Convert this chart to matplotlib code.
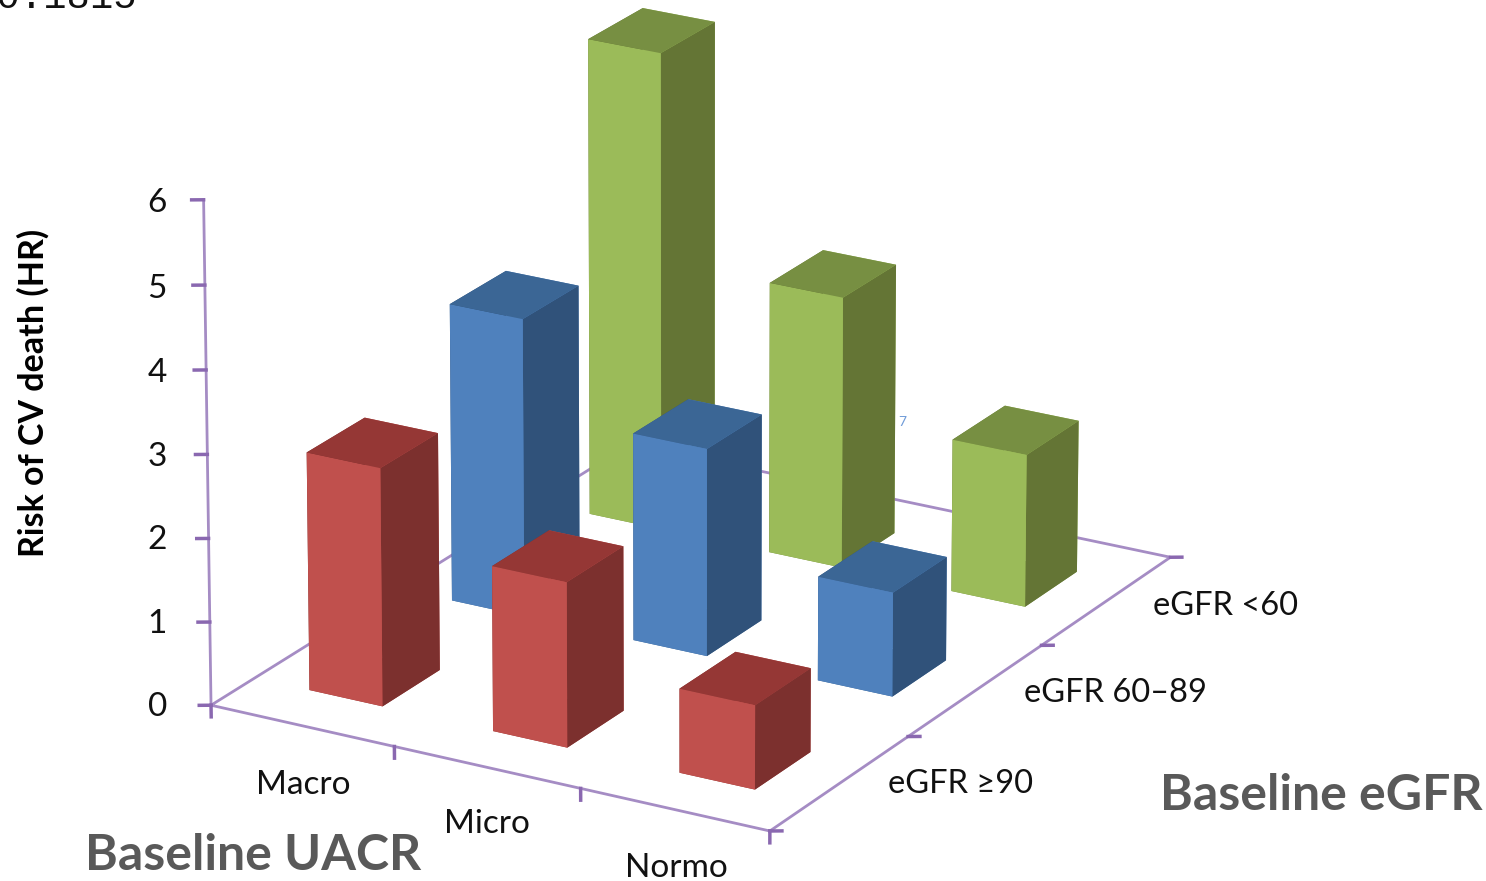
import matplotlib
matplotlib.use("Agg")
from matplotlib import pyplot as plt

WIDTH, HEIGHT = 1486, 881

uacr_labels = ["Macro", "Micro", "Normo"]
egfr_labels = ["eGFR \u226590", "eGFR 60\u201389", "eGFR <60"]
hr_ticks = [0, 1, 2, 3, 4, 5, 6]

# Hazard ratios by eGFR row, one value per UACR category
hr_egfr_90 = [2.85, 1.97, 1.0]
hr_egfr_60_89 = [3.6, 2.5, 1.25]
hr_egfr_below_60 = [5.82, 3.3, 1.85]

# Face colours per row: front, side, top
row_colors = [
    ("#C0504D", "#7C302E", "#953735"),
    ("#4F81BD", "#30527A", "#3B6695"),
    ("#9BBB59", "#647535", "#778F42"),
]
axis_color = "#A58CC4"
tick_color = "#8A68B0"
font = ["Lato", "DejaVu Sans"]


def fx(px):
    return px / WIDTH


def fy(py):
    return 1 - py / HEIGHT


fig = plt.figure(figsize=(WIDTH / 100, HEIGHT / 100), dpi=100)

# Square 3D axes larger than the figure so the bars are not clipped
side = 1486
cx, cy = 677.5, 402.5
ax = fig.add_axes([fx(cx - side / 2), fy(cy + side / 2), side / WIDTH, side / HEIGHT],
                  projection="3d")
ax.set_proj_type("persp", focal_length=1.6)
ax.view_init(elev=21, azim=-60)
ax.set_box_aspect((638, 825, 534), zoom=0.7665)
ax.set_xlim(0, 3)
ax.set_ylim(0, 3)
ax.set_zlim(0, 6)
ax.set_axis_off()
ax.patch.set_alpha(0)
ax.computed_zorder = False

# Floor edges and the HR axis
ax.plot([0, 3, 3, 0, 0], [0, 0, 3, 3, 0], [0, 0, 0, 0, 0], color=axis_color, lw=2, zorder=1)
ax.plot([0, 0], [0, 0], [0, 6], color=axis_color, lw=2, zorder=1)

# Tick marks: down on UACR, right on eGFR, left on HR
for i in range(4):
    ax.plot([i, i], [0, 0], [0, -0.14], color=tick_color, lw=2.5, zorder=1)
    ax.plot([3, 3.047], [i, i + 0.022], [0, 0], color=tick_color, lw=2.5, zorder=1)
for z in hr_ticks:
    ax.plot([0, -0.047], [0, -0.022], [z, z], color=tick_color, lw=2.5, zorder=1)

# Bars drawn back to front so nearer ones overlap farther ones
width = 0.4
rows = [hr_egfr_90, hr_egfr_60_89, hr_egfr_below_60]
order = 2
for row in (2, 1, 0):
    front, bar_side, top = row_colors[row]
    # bar3d face order: bottom, top, -y, +y, -x, +x
    faces = [top, top, front, front, bar_side, bar_side]
    for col, value in enumerate(rows[row]):
        ax.bar3d(col + 0.3, row + 0.3, 0, width, width, value, color=faces,
                 shade=False, zorder=order, linewidth=0)
        order += 1

# Text
black = "#111111"
for z, py in zip(hr_ticks, [707, 624, 540, 457, 373, 289, 203]):
    fig.text(fx(167), fy(py), str(z), ha="right", va="center", fontsize=24,
             family=font, color=black)
for label, px, py in zip(uacr_labels, [303, 487, 676], [785, 824, 868]):
    fig.text(fx(px), fy(py), label, ha="center", va="center", fontsize=24,
             family=font, color=black)
for label, px, py in zip(egfr_labels, [961, 1115, 1226], [784, 693, 606]):
    fig.text(fx(px), fy(py), label, ha="center", va="center", fontsize=23.5,
             family=font, color=black)

fig.text(fx(33), fy(393), "Risk of CV death (HR)", rotation=90, ha="center", va="center",
         fontsize=24.5, fontweight="bold", family=font, color="black")
fig.text(fx(253), fy(855), "Baseline UACR", ha="center", va="center", fontsize=36,
         fontweight="bold", family=font, color="#595959")
fig.text(fx(1321), fy(796), "Baseline eGFR", ha="center", va="center", fontsize=36,
         fontweight="bold", family=font, color="#595959")
fig.text(fx(137), fy(8), "10.1815", ha="right", va="baseline", fontsize=28,
         family="Liberation Mono", color=black)
fig.text(fx(902), fy(422), "7", ha="center", va="center", fontsize=10, color="#6F9BD8", family=font)

fig.savefig("out.png", dpi=100)
